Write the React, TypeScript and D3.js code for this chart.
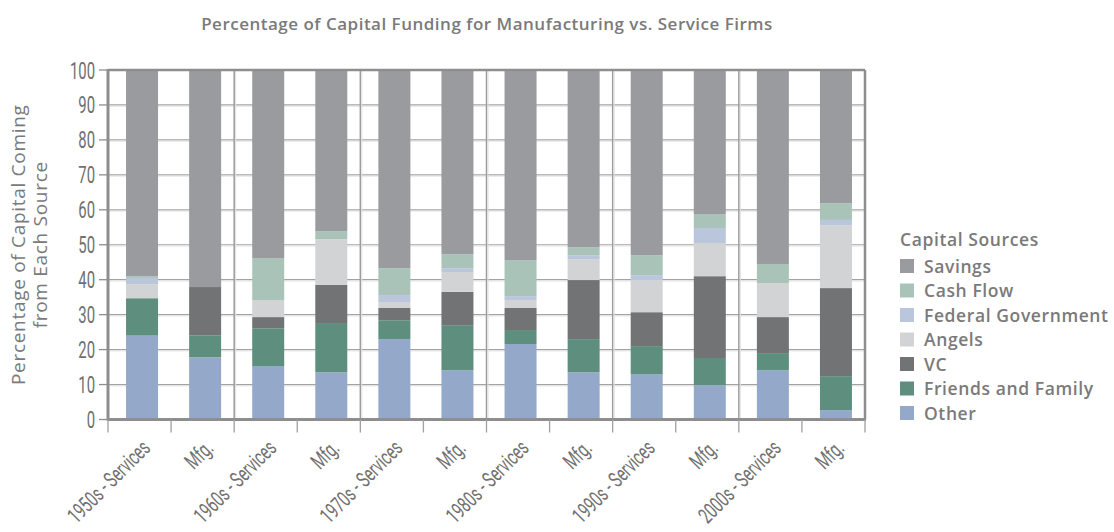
import React from "react";
import * as d3 from "d3";

const categories = [
  "1950s - Services", "Mfg.", "1960s - Services", "Mfg.", "1970s - Services", "Mfg.",
  "1980s - Services", "Mfg.", "1990s - Services", "Mfg.", "2000s - Services", "Mfg.",
];
const seriesNames = ["Other", "Friends and Family", "VC", "Angels", "Federal Government", "Cash Flow", "Savings"];
const other = [24.0, 17.8, 15.3, 13.5, 23.0, 14.1, 21.6, 13.5, 13.0, 9.8, 14.1, 2.7];
const friendsFamily = [10.7, 6.3, 10.8, 14.1, 5.4, 12.9, 4.0, 9.5, 8.0, 7.8, 4.9, 9.7];
const vc = [0, 13.8, 3.2, 10.9, 3.5, 9.5, 6.3, 16.9, 9.7, 23.4, 10.3, 25.2];
const angels = [4.0, 0, 4.9, 13.1, 1.7, 5.7, 2.3, 6.0, 9.2, 9.5, 9.7, 18.0];
const federalGov = [1.8, 0, 0, 0, 2.0, 1.1, 1.1, 1.1, 1.4, 4.3, 0, 1.5];
const cashFlow = [0.5, 0, 12.0, 2.3, 7.7, 4.0, 10.3, 2.3, 5.7, 4.0, 5.5, 4.8];
const savings = [59.0, 62.1, 53.8, 46.1, 56.7, 52.7, 54.4, 50.7, 53.0, 41.2, 55.5, 38.1];
const yTicks = [0, 10, 20, 30, 40, 50, 60, 70, 80, 90, 100];
const legendOrder = ["Savings", "Cash Flow", "Federal Government", "Angels", "VC", "Friends and Family", "Other"];

const colors: Record<string, string> = {
  "Savings": "#9a9b9f",
  "Cash Flow": "#a9c3b9",
  "Federal Government": "#bac6dc",
  "Angels": "#d2d3d5",
  "VC": "#727374",
  "Friends and Family": "#5e8f7e",
  "Other": "#94a9c9",
};

const seriesValues = [other, friendsFamily, vc, angels, federalGov, cashFlow, savings];

export default function App() {
  const W = 1114, H = 532;
  const left = 108, right = 865, top = 70, bottom = 419.5;
  const x = d3.scaleBand<number>().domain(d3.range(categories.length)).range([left, right]);
  const y = d3.scaleLinear().domain([0, 100]).range([bottom, top]);
  const barW = 32;
  const barShift = 2.5;

  const rows = categories.map((c, i) => {
    const r: any = { i };
    seriesNames.forEach((s, k) => (r[s] = seriesValues[k][i]));
    return r;
  });
  const stack = d3.stack<any>().keys(seriesNames)(rows);

  const textGray = "#707070";
  const lineGray = "#8e8e8e";
  const condensed = "Roboto, 'DejaVu Sans', sans-serif";
  const humanist = "'Open Sans', Lato, sans-serif";

  const boundaries = d3.range(categories.length + 1).map((k) => left + k * x.bandwidth());

  return (
    <svg width={W} height={H} style={{ position: "absolute", left: 0, top: 0, background: "#fff" }}>
      <text x={487} y={30} textAnchor="middle" fontFamily={humanist} fontWeight={600} fontSize={17} letterSpacing={0.5} fill="#7a7a7a">
        Percentage of Capital Funding for Manufacturing vs. Service Firms
      </text>

      {/* horizontal gridlines */}
      {yTicks.filter((t) => t > 0 && t < 100).map((t) => (
        <g key={t}>
          <line x1={left} x2={right} y1={y(t)} y2={y(t)} stroke="#a3a3a3" strokeWidth={1.2} />
          <line x1={left} x2={right} y1={y(t) + 1.3} y2={y(t) + 1.3} stroke="#e2e2e2" strokeWidth={1} />
        </g>
      ))}
      {/* vertical group lines */}
      {boundaries.filter((_, k) => k > 0 && k < categories.length && k % 2 === 0).map((bx, k) => (
        <g key={k}>
          <line x1={bx} x2={bx} y1={top} y2={bottom} stroke="#9c9c9c" strokeWidth={1.5} />
          <line x1={bx + 1.5} x2={bx + 1.5} y1={top} y2={bottom} stroke="#e0e0e0" strokeWidth={1} />
        </g>
      ))}

      {/* bars */}
      {stack.map((layer) => (
        <g key={layer.key} fill={colors[layer.key]}>
          {layer.map((d, i) =>
            d[1] - d[0] > 0 ? (
              <rect
                key={i}
                x={(x(i) as number) + x.bandwidth() / 2 + barShift - barW / 2}
                y={y(d[1])}
                width={barW}
                height={y(d[0]) - y(d[1])}
              />
            ) : null
          )}
        </g>
      ))}

      {/* frame */}
      <line x1={left} x2={right} y1={top} y2={top} stroke={lineGray} strokeWidth={2.5} />
      <line x1={right} x2={right} y1={top} y2={bottom} stroke={lineGray} strokeWidth={2.5} />
      <line x1={left} x2={left} y1={top - 1} y2={bottom + 1} stroke={lineGray} strokeWidth={3} />
      <line x1={left - 1} x2={right + 1} y1={bottom} y2={bottom} stroke={lineGray} strokeWidth={3} />

      {/* y ticks */}
      {yTicks.map((t) => (
        <g key={t}>
          <line x1={left - 9} x2={left} y1={y(t)} y2={y(t)} stroke={lineGray} strokeWidth={1.3} />
          <text
            transform={`translate(${left - 13},${y(t) + 8.5}) scale(0.62,1)`}
            textAnchor="end"
            fontFamily={condensed}
            fontSize={24}
            fill={textGray}
          >
            {t}
          </text>
        </g>
      ))}

      {/* x ticks */}
      {boundaries.map((bx, k) => (
        <line key={k} x1={bx} x2={bx} y1={bottom} y2={bottom + 13} stroke="#a0a0a0" strokeWidth={1.3} />
      ))}
      {categories.map((c, i) => (
        <text
          key={i}
          transform={`translate(${(x(i) as number) + x.bandwidth() / 2 + 12},${bottom + 30}) rotate(-45) scale(0.66,1)`}
          textAnchor="end"
          fontFamily={condensed}
          fontSize={22}
          fill={textGray}
        >
          {c}
        </text>
      ))}

      {/* y axis title */}
      <g transform={`translate(25,${(top + bottom) / 2}) rotate(-90)`}>
        <text textAnchor="middle" fontFamily={humanist} fontSize={19} letterSpacing={0.7} fill="#7a7a7a" y={0}>
          Percentage of Capital Coming
        </text>
        <text textAnchor="middle" fontFamily={humanist} fontSize={19} letterSpacing={0.7} fill="#7a7a7a" y={22}>
          from Each Source
        </text>
      </g>

      {/* legend */}
      <text x={900} y={246} fontFamily={humanist} fontWeight={600} fontSize={17.5} letterSpacing={0.6} fill="#7a7a7a">
        Capital Sources
      </text>
      {legendOrder.map((s, k) => (
        <g key={s} transform={`translate(900,${259 + k * 24.5})`}>
          <rect x={0} y={0} width={14} height={14} fill={colors[s]} />
          <text x={24} y={13.5} fontFamily={humanist} fontWeight={600} fontSize={17.5} letterSpacing={0.6} fill="#7a7a7a">
            {s}
          </text>
        </g>
      ))}
    </svg>
  );
}
